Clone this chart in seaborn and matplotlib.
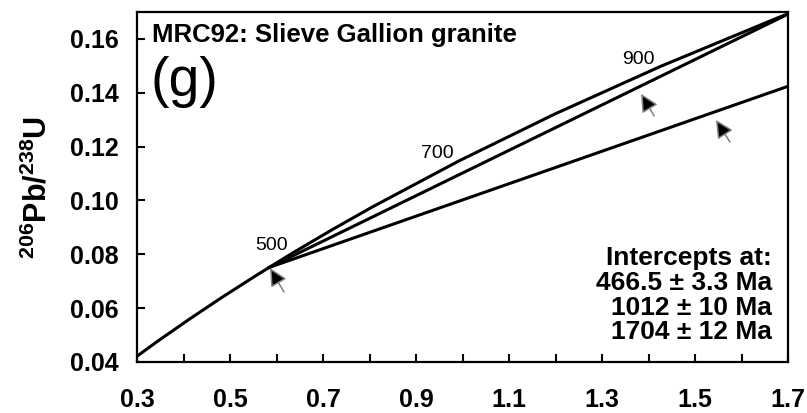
import numpy as np
import pandas as pd
import matplotlib
matplotlib.use('Agg')
import matplotlib.pyplot as plt
from matplotlib.ticker import MultipleLocator
import seaborn as sns

# ---- datos ----
# concordia (Ma -> 207Pb/235U, 206Pb/238U)
edad_conc = [250, 300, 350, 400, 450, 500, 550, 600, 700, 800, 900, 1000, 1100]
x_conc = [0.27917, 0.34374, 0.41156, 0.48281, 0.55766, 0.63628, 0.71887, 0.80563,
          0.99251, 1.19873, 1.42630, 1.67741, 1.95452]
y_conc = [0.03954, 0.04764, 0.05579, 0.06402, 0.07230, 0.08065, 0.08906, 0.09754,
          0.11470, 0.13213, 0.14983, 0.16780, 0.18606]

# etiquetas de edad sobre la concordia
edades_lbl = [500, 700, 900]
x_lbl = [0.63628, 0.99251, 1.42630]
y_lbl = [0.08065, 0.11470, 0.14983]

# interceptos (466.5, 1012, 1704 Ma)
x_inf = 0.58318
y_inf = 0.07505
x_sup = [1.70924, 4.35582]
y_sup = [0.16998, 0.30256]

# flechas (punta, cola)
flecha_x = [0.586, 1.384, 1.545]
flecha_y = [0.0749, 0.1396, 0.1299]
cola_x = [0.616, 1.412, 1.575]
cola_y = [0.0660, 0.1314, 0.1217]

texto_int = "Intercepts at:\n466.5 \u00b1 3.3 Ma\n1012 \u00b1 10 Ma\n1704 \u00b1 12 Ma"

# ---- estilo ----
sns.set_style('ticks', {'text.color': 'black', 'axes.labelcolor': 'black',
                        'xtick.color': 'black', 'ytick.color': 'black',
                        'axes.edgecolor': 'black'})
plt.rcParams['font.family'] = ['Liberation Sans', 'DejaVu Sans']
plt.rcParams['mathtext.fontset'] = 'custom'
plt.rcParams['mathtext.rm'] = 'Liberation Sans'
plt.rcParams['mathtext.default'] = 'regular'

fig = plt.figure(figsize=(8.07, 4.13), dpi=100)
ax = fig.add_axes([0.1698, 0.1235, 0.8067, 0.8475])

df_conc = pd.DataFrame({'x': x_conc, 'y': y_conc})
sns.lineplot(data=df_conc, x='x', y='y', sort=False, estimator=None,
             color='black', lw=2.2, ax=ax)

for xs, ys in zip(x_sup, y_sup):
    sns.lineplot(x=[x_inf, xs], y=[y_inf, ys], sort=False, estimator=None,
                 color='black', lw=2.2, ax=ax)

for e, xe, ye in zip(edades_lbl, x_lbl, y_lbl):
    ax.annotate(str(e), xy=(xe, ye), xytext=(-16, 5), textcoords='offset points',
                ha='center', va='center', fontsize=14, color='black')

for px, py, tx, ty in zip(flecha_x, flecha_y, cola_x, cola_y):
    ax.annotate('', xy=(px, py), xytext=(tx, ty),
                arrowprops=dict(arrowstyle='-|>,head_length=0.6,head_width=0.3',
                                fc='black', ec='#808080', lw=1.1,
                                mutation_scale=18, shrinkA=0, shrinkB=0))

ax.text(0.023, 0.968, 'MRC92: Slieve Gallion granite', transform=ax.transAxes,
        ha='left', va='top', fontsize=18.5, fontweight='bold', color='black')
ax.text(0.020, 0.875, '(g)', transform=ax.transAxes,
        ha='left', va='top', fontsize=40, color='black')
ax.text(0.975, 0.05, texto_int, transform=ax.transAxes, ha='right', va='bottom',
        multialignment='right', fontsize=19, fontweight='bold', linespacing=1.05,
        color='black')

ax.set_xticks(np.arange(0.3, 1.71, 0.2))
ax.set_xticklabels(['0.3', '0.5', '0.7', '0.9', '1.1', '1.3', '1.5', '1.7'])
ax.xaxis.set_minor_locator(MultipleLocator(0.1))
ax.set_yticks([0.04, 0.06, 0.08, 0.10, 0.12, 0.14, 0.16])
ax.set_yticklabels(['0.04', '0.06', '0.08', '0.10', '0.12', '0.14', '0.16'])
ax.set_xlim(0.3, 1.7)
ax.set_ylim(0.04, 0.17)

ax.tick_params(axis='x', which='both', direction='in', length=6, width=1.5,
               pad=19, labelsize=18, top=False, colors='black')
ax.tick_params(axis='y', which='major', direction='in', length=6, width=1.5,
               pad=13, labelsize=18, right=False, colors='black')
for lbl in ax.get_xticklabels() + ax.get_yticklabels():
    lbl.set_fontweight('bold')

for s in ax.spines.values():
    s.set_visible(True)
    s.set_linewidth(1.6)
    s.set_color('black')

ax.set_xlabel('')
ax.set_ylabel(r'$^{206}$Pb/$^{238}$U', fontsize=22, fontweight='bold', labelpad=12,
              color='black')

fig.savefig('out.png', dpi=100)
